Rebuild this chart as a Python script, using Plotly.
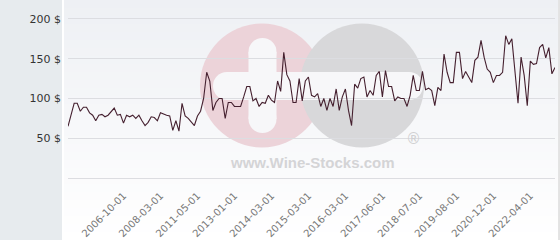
import plotly.graph_objects as go

# ---- data ----
prices = [65, 79, 94, 94, 84, 89, 89, 82, 79, 72,
          79, 80, 77, 79, 83, 88, 79, 80, 69, 79,
          77, 79, 75, 79, 72, 66, 70, 77, 76, 72,
          82, 80, 79, 78, 60, 72, 59, 94, 78, 75,
          70, 66, 78, 84, 100, 133, 122, 85, 95, 100,
          100, 75, 95, 95, 90, 90, 90, 102, 115, 115,
          97, 100, 90, 95, 94, 104, 98, 95, 122, 109,
          158, 130, 122, 95, 95, 125, 97, 122, 127, 104,
          102, 106, 90, 100, 85, 100, 90, 112, 85, 102,
          112, 85, 66, 118, 113, 125, 127, 102, 110, 104,
          129, 134, 102, 135, 115, 115, 97, 102, 100, 100,
          90, 104, 129, 110, 110, 134, 111, 113, 110, 91,
          114, 110, 156, 133, 120, 120, 158, 158, 125, 134,
          126, 120, 148, 152, 173, 152, 137, 133, 120, 129,
          129, 133, 179, 168, 175, 129, 94, 152, 129, 91,
          147, 143, 144, 164, 168, 151, 164, 131, 139]

tick_labels = ["2006-10-01", "2008-03-01", "2011-05-01", "2013-01-01",
               "2014-03-01", "2015-03-01", "2016-03-01", "2017-06-01",
               "2018-07-01", "2019-08-01", "2020-12-01", "2022-04-01"]
first_label_index = 18
label_every = 12

y_ticks = [0, 50, 100, 150, 200]
y_tick_text = ["", "50 $", "100 $", "150 $", "200 $"]

# ---- figure ----
W, H = 560, 240
ML, MR, MT, MB = 68, 5, 15, 58
PW = W - ML - MR
PH = H - MT - MB


def X(px):
    return (px - ML) / PW


def Y(py):
    return (H - MB - py) / PH


idx = list(range(len(prices)))
tickvals = [first_label_index + label_every * k for k in range(len(tick_labels))]

fig = go.Figure()
fig.add_trace(go.Scatter(
    x=idx, y=prices, mode="lines",
    line=dict(color="#45202f", width=1.1),
    hoverinfo="skip", showlegend=False,
))

shapes = []
# left grey panel
shapes.append(dict(type="rect", xref="paper", yref="paper", layer="below",
                   x0=X(0), x1=X(62), y0=Y(H), y1=Y(0),
                   fillcolor="#e7ebee", line=dict(width=0)))
# gradient background of the chart panel
n = 30
c0 = (238, 240, 244)
c1 = (255, 255, 255)
for k in range(n):
    t = k / (n - 1)
    col = "rgb(%d,%d,%d)" % tuple(round(a + (b - a) * t) for a, b in zip(c0, c1))
    shapes.append(dict(type="rect", xref="paper", yref="paper", layer="below",
                       x0=X(64), x1=X(558),
                       y0=Y(H * (k + 1) / n + 0.5), y1=Y(H * k / n),
                       fillcolor=col, line=dict(width=0)))
# right border
shapes.append(dict(type="line", xref="paper", yref="paper", layer="below",
                   x0=X(559), x1=X(559), y0=Y(H), y1=Y(0),
                   line=dict(color="#c8c8c8", width=1)))

# watermark logo
pink = "#ecd3d9"
grey = "#d8d8da"
bar = "#f7f7f9"
shapes.append(dict(type="circle", xref="paper", yref="paper", layer="below",
                   x0=X(200), x1=X(324), y0=Y(147.5), y1=Y(23.5),
                   fillcolor=pink, line=dict(width=0)))
shapes.append(dict(type="circle", xref="paper", yref="paper", layer="below",
                   x0=X(300), x1=X(424), y0=Y(147.5), y1=Y(23.5),
                   fillcolor=grey, line=dict(width=0)))
# plus vertical bar
shapes.append(dict(type="rect", xref="paper", yref="paper", layer="below",
                   x0=X(248.5), x1=X(276.5), y0=Y(119), y1=Y(52),
                   fillcolor=bar, line=dict(width=0)))
for cy in (52, 119):
    shapes.append(dict(type="circle", xref="paper", yref="paper", layer="below",
                       x0=X(248.5), x1=X(276.5), y0=Y(cy + 14), y1=Y(cy - 14),
                       fillcolor=bar, line=dict(width=0)))
# horizontal bar (plus arm + minus)
shapes.append(dict(type="rect", xref="paper", yref="paper", layer="below",
                   x0=X(227), x1=X(409), y0=Y(100), y1=Y(72),
                   fillcolor=bar, line=dict(width=0)))
for cx in (227, 409):
    shapes.append(dict(type="circle", xref="paper", yref="paper", layer="below",
                       x0=X(cx - 14), x1=X(cx + 14), y0=Y(100), y1=Y(72),
                       fillcolor=bar, line=dict(width=0)))

annotations = [
    dict(text="<b>www.Wine-Stocks.com</b>", xref="paper", yref="paper",
         x=X(312), y=Y(162), showarrow=False, xanchor="center", yanchor="middle",
         font=dict(family="Liberation Sans, Arial", size=15, color="#d4d4d6")),
    dict(text="®", xref="paper", yref="paper",
         x=X(413), y=Y(139), showarrow=False, xanchor="center", yanchor="middle",
         font=dict(family="DejaVu Sans", size=15, color="#d0d0d2")),
]

fig.update_layout(
    width=W, height=H, autosize=False,
    margin=dict(l=ML, r=MR, t=MT, b=MB, pad=0, autoexpand=False),
    paper_bgcolor="#ffffff",
    plot_bgcolor="rgba(0,0,0,0)",
    shapes=shapes, annotations=annotations,
    font=dict(family="DejaVu Sans", size=11, color="#333333"),
    xaxis=dict(
        range=[0, len(prices) - 1], tickmode="array", tickvals=tickvals,
        ticktext=tick_labels, tickangle=-45, showgrid=False, zeroline=False,
        showline=False, ticks="", fixedrange=True, ticklabelstandoff=5,
        automargin=False,
        tickfont=dict(family="DejaVu Sans", size=10, color="#777777"),
    ),
    yaxis=dict(
        range=[-5, 205], tickmode="array", tickvals=y_ticks, ticktext=y_tick_text,
        showgrid=True, gridcolor="#dcdde1", gridwidth=1, zeroline=False,
        showline=False, ticks="", fixedrange=True, ticklabelstandoff=6,
        automargin=False,
        tickfont=dict(family="DejaVu Sans", size=11, color="#333333"),
    ),
)

fig.write_html("out.html")
